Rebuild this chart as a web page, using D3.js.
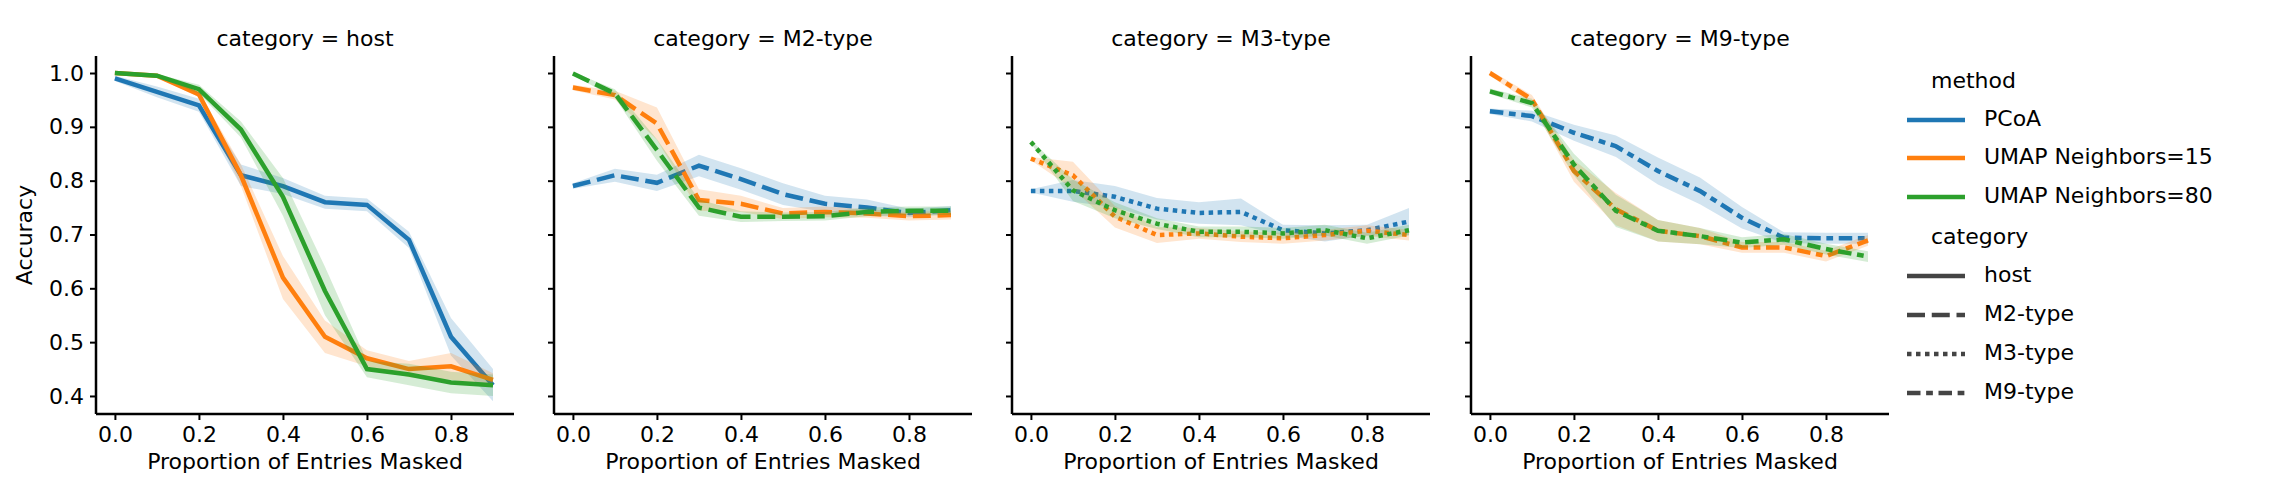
<!DOCTYPE html>
<html><head><meta charset="utf-8">
<script src="https://cdn.jsdelivr.net/npm/d3@7"></script>
<style>body{margin:0;background:#fff}text{font-family:"DejaVu Sans",sans-serif;fill:#000}</style>
</head><body>
<svg id="c" width="2284" height="481"></svg>
<script>
const xs = [0,0.1,0.2,0.3,0.4,0.5,0.6,0.7,0.8,0.9];
const categories = ["host","M2-type","M3-type","M9-type"];
const methods = ["PCoA","UMAP Neighbors=15","UMAP Neighbors=80"];
const colors = ["#1f77b4","#ff7f0e","#2ca02c"];
const xTicks = [0,0.2,0.4,0.6,0.8];
const yTicks = [0.4,0.5,0.6,0.7,0.8,0.9,1.0];
// means [category][method]
const hostPCoA = [0.99,0.965,0.94,0.81,0.79,0.76,0.755,0.69,0.51,0.42];
const hostU15  = [1.0,0.995,0.96,0.81,0.62,0.51,0.47,0.45,0.455,0.43];
const hostU80  = [1.0,0.995,0.97,0.895,0.77,0.595,0.45,0.44,0.425,0.42];
const m2PCoA = [0.79,0.81,0.796,0.828,0.803,0.775,0.757,0.75,0.74,0.745];
const m2U15  = [0.973,0.959,0.906,0.764,0.757,0.739,0.742,0.739,0.734,0.736];
const m2U80  = [0.999,0.962,0.857,0.75,0.733,0.733,0.734,0.742,0.744,0.744];
const m3PCoA = [0.781,0.781,0.77,0.748,0.74,0.742,0.708,0.702,0.708,0.724];
const m3U15  = [0.841,0.81,0.733,0.699,0.702,0.696,0.693,0.699,0.707,0.699];
const m3U80  = [0.872,0.782,0.745,0.72,0.705,0.705,0.702,0.708,0.693,0.708];
const m9PCoA = [0.929,0.92,0.889,0.864,0.818,0.781,0.731,0.694,0.693,0.693];
const m9U15  = [1.0,0.951,0.818,0.747,0.707,0.697,0.676,0.676,0.66,0.689];
const m9U80  = [0.966,0.944,0.83,0.744,0.707,0.697,0.685,0.691,0.673,0.659];
// confidence half-widths
const hostPCoACI = [.005,.01,.012,.02,.015,.012,.012,.015,.035,.03];
const hostU15CI  = [.003,.003,.005,.02,.04,.03,.015,.015,.025,.012];
const hostU80CI  = [.003,.003,.008,.015,.035,.045,.015,.02,.02,.02];
const m2PCoACI = [.005,.012,.015,.02,.02,.02,.015,.015,.008,.008];
const m2U15CI  = [.005,.008,.03,.02,.015,.01,.01,.008,.008,.008];
const m2U80CI  = [.003,.008,.02,.015,.01,.008,.008,.008,.008,.008];
const m3PCoACI = [.003,.02,.02,.02,.02,.025,.01,.015,.01,.025];
const m3U15CI  = [.003,.025,.02,.015,.01,.01,.01,.01,.01,.01];
const m3U80CI  = [.003,.02,.015,.01,.01,.01,.01,.01,.01,.01];
const m9PCoACI = [.005,.01,.015,.02,.025,.025,.02,.01,.01,.01];
const m9U15CI  = [.005,.008,.02,.03,.02,.015,.01,.01,.01,.01];
const m9U80CI  = [.005,.008,.02,.03,.02,.015,.01,.01,.01,.01];

const means = [[hostPCoA,hostU15,hostU80],[m2PCoA,m2U15,m2U80],[m3PCoA,m3U15,m3U80],[m9PCoA,m9U15,m9U80]];
const cis = [[hostPCoACI,hostU15CI,hostU80CI],[m2PCoACI,m2U15CI,m2U80CI],[m3PCoACI,m3U15CI,m3U80CI],[m9PCoACI,m9U15CI,m9U80CI]];
const LW = 4.5;
const dashes = ["", `${4*LW},${1.5*LW}`, `${1*LW},${1*LW}`, `${3*LW},${1.25*LW},${1.5*LW},${1.25*LW}`];

const svg = d3.select("#c");
const lefts = [96,554,1012,1471], pw = 418, topY = 56, bottomY = 414;
const y = d3.scaleLinear().domain([0.3665,1.0316]).range([bottomY,topY]);

categories.forEach((cat,ci)=>{
  const L = lefts[ci];
  const x = d3.scaleLinear().domain([-0.045,0.95]).range([L,L+pw]);
  const g = svg.append("g");
  for(let mi=0;mi<3;mi++){
    const m = means[ci][mi], e = cis[ci][mi];
    const d = xs.map((v,i)=>({x:v,y:m[i],e:e[i]}));
    g.append("path").attr("d",d3.area().x(p=>x(p.x)).y0(p=>y(p.y-p.e)).y1(p=>y(p.y+p.e))(d))
      .attr("fill",colors[mi]).attr("fill-opacity",0.2).attr("stroke","none");
    g.append("path").attr("d",d3.line().x(p=>x(p.x)).y(p=>y(p.y))(d))
      .attr("fill","none").attr("stroke",colors[mi]).attr("stroke-width",LW)
      .attr("stroke-dasharray",dashes[ci]);
  }
  const xa = svg.append("g").attr("transform",`translate(0,${bottomY})`)
    .call(d3.axisBottom(x).tickValues(xTicks).tickFormat(d3.format(".1f")).tickSize(6).tickPadding(6));
  xa.select(".domain").attr("d",`M${L},0H${L+pw}`).attr("stroke-width",2.5);
  xa.selectAll(".tick line").attr("stroke-width",2);
  xa.selectAll("text").attr("font-size",22);
  const ya = svg.append("g").attr("transform",`translate(${L},0)`)
    .call(d3.axisLeft(y).tickValues(yTicks).tickFormat(ci===0?d3.format(".1f"):()=>"").tickSize(6).tickPadding(6));
  ya.select(".domain").attr("d",`M0,${topY}V${bottomY}`).attr("stroke-width",2.5);
  ya.selectAll(".tick line").attr("stroke-width",2);
  ya.selectAll("text").attr("font-size",22);
  svg.append("text").attr("x",L+pw/2).attr("y",463).attr("text-anchor","middle").attr("dominant-baseline","middle")
    .attr("font-size",22).text("Proportion of Entries Masked");
  svg.append("text").attr("x",L+pw/2).attr("y",40).attr("text-anchor","middle").attr("dominant-baseline","middle")
    .attr("font-size",22).text("category = "+cat);
});
svg.append("text").attr("transform","translate(26,235) rotate(-90)").attr("text-anchor","middle")
  .attr("dominant-baseline","middle").attr("font-size",22).text("Accuracy");

// legend
const lg = svg.append("g");
const lx0 = 1907, lx1 = 1965, tx = 1984;
lg.append("text").attr("x",1931).attr("y",82).attr("dominant-baseline","middle").attr("font-size",22).text("method");
methods.forEach((m,i)=>{
  const yy=[120,158,197][i];
  lg.append("line").attr("x1",lx0).attr("x2",lx1).attr("y1",yy).attr("y2",yy).attr("stroke",colors[i]).attr("stroke-width",LW);
  lg.append("text").attr("x",tx).attr("y",yy).attr("dominant-baseline","middle").attr("font-size",22).text(m);
});
lg.append("text").attr("x",1931).attr("y",238).attr("dominant-baseline","middle").attr("font-size",22).text("category");
categories.forEach((c,i)=>{
  const yy=[276,315,354,393][i];
  lg.append("line").attr("x1",lx0).attr("x2",lx1).attr("y1",yy).attr("y2",yy).attr("stroke","#444").attr("stroke-width",LW)
    .attr("stroke-dasharray",dashes[i]);
  lg.append("text").attr("x",tx).attr("y",yy).attr("dominant-baseline","middle").attr("font-size",22).text(c);
});
</script></body></html>
